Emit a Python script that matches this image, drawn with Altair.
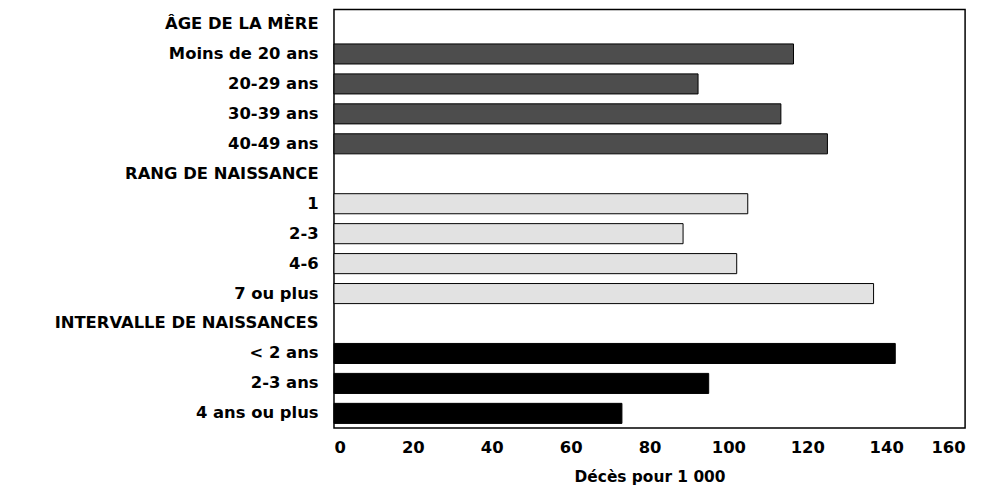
import altair as alt
import pandas as pd

rows = ["ÂGE DE LA MÈRE", "Moins de 20 ans", "20-29 ans", "30-39 ans", "40-49 ans",
        "RANG DE NAISSANCE", "1", "2-3", "4-6", "7 ou plus",
        "INTERVALLE DE NAISSANCES", "< 2 ans", "2-3 ans", "4 ans ou plus"]

age_labels = ["Moins de 20 ans", "20-29 ans", "30-39 ans", "40-49 ans"]
age_values = [116.5, 92.3, 113.3, 125.1]
rang_labels = ["1", "2-3", "4-6", "7 ou plus"]
rang_values = [104.9, 88.5, 102.1, 136.8]
int_labels = ["< 2 ans", "2-3 ans", "4 ans ou plus"]
int_values = [142.3, 95.0, 73.0]

groups = ["age", "rang", "intervalle"]
group_colors = ["#4d4d4d", "#e2e2e2", "#000000"]

df = pd.DataFrame(
    [{"cat": c, "val": v, "grp": "age"} for c, v in zip(age_labels, age_values)]
    + [{"cat": c, "val": v, "grp": "rang"} for c, v in zip(rang_labels, rang_values)]
    + [{"cat": c, "val": v, "grp": "intervalle"} for c, v in zip(int_labels, int_values)]
)

FONT = "DejaVu Sans"

chart = alt.Chart(df).mark_bar(stroke="black", strokeWidth=1).encode(
    y=alt.Y("cat:N", sort=rows,
            scale=alt.Scale(domain=rows, paddingInner=0.33, paddingOuter=0.15),
            axis=alt.Axis(title=None, ticks=False, domain=False, labelPadding=16,
                          labelFont=FONT, labelFontWeight="bold", labelFontSize=16.5,
                          labelColor="black", labelLimit=400)),
    x=alt.X("val:Q", scale=alt.Scale(domain=[0, 160], nice=False),
            axis=alt.Axis(title="Décès pour 1 000", values=[0, 20, 40, 60, 80, 100, 120, 140, 160],
                          ticks=False, domain=False, grid=False, labelPadding=12,
                          labelFont=FONT, labelFontWeight="bold", labelFontSize=16.5,
                          labelColor="black", titleFont=FONT, titleFontWeight="bold",
                          titleFontSize=15.5, titleColor="black", titlePadding=13)),
    color=alt.Color("grp:N", scale=alt.Scale(domain=groups, range=group_colors), legend=None),
).properties(
    width=635, height=421,
    autosize=alt.AutoSizeParams(type="none"),
    padding={"left": 328, "top": 0, "right": 14, "bottom": 64},
).configure_view(stroke="black", strokeWidth=1.5)

chart.save("out.html", embed_options={"renderer": "svg", "actions": False})
